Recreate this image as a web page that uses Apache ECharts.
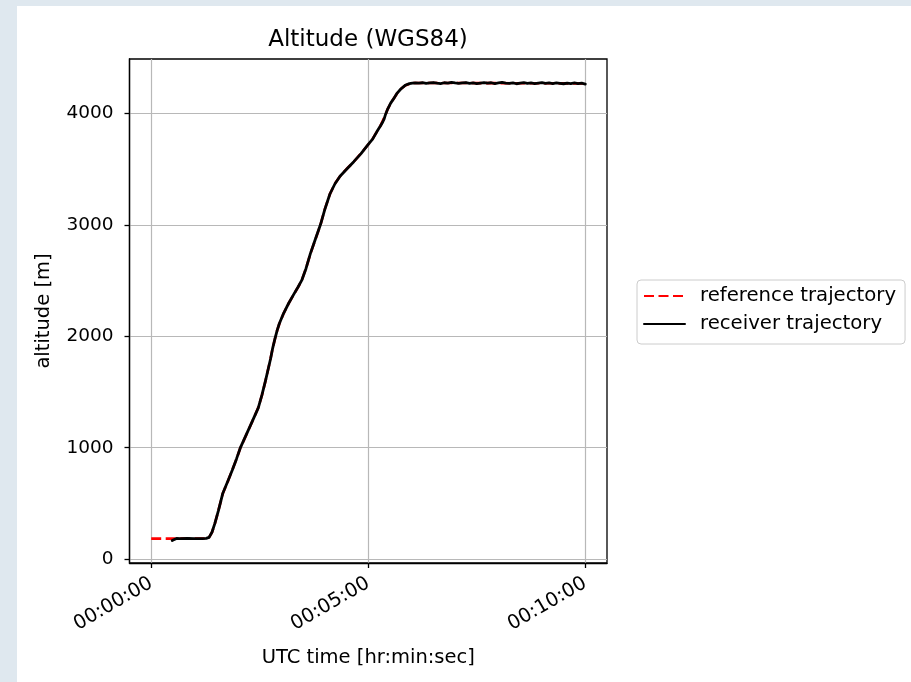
<!DOCTYPE html>
<html>
<head>
<meta charset="utf-8">
<script src="https://cdn.jsdelivr.net/npm/echarts@6/dist/echarts.min.js"></script>
<style>
  html, body { margin: 0; padding: 0; background: #dfe8ef; }
  #sheet { position: absolute; left: 17px; top: 6px; width: 894px; height: 676px; background: #ffffff; }
  #chart { position: absolute; left: 0; top: 0; width: 911px; height: 682px; }
</style>
</head>
<body>
<div id="sheet"></div>
<div id="chart"></div>
<script>
// Seconds since start of run
const refTime = [0, 20, 40, 60, 76, 80, 84, 88, 93, 99, 106, 112, 118, 123, 130, 140, 148, 153, 158, 165,
  168, 171, 174, 177, 183, 190, 197, 203, 208, 214, 220, 227, 234, 240, 247, 254, 261, 270, 280, 290, 300, 306,
  312, 317, 321, 324, 327, 331, 336, 340, 345, 351, 357, 363, 370, 400, 450, 500, 550, 600];
// Reference altitude, metres above WGS84 ellipsoid
const refAlt = [185, 185, 185, 185, 186, 195, 240, 320, 440, 590, 700, 800, 900, 995, 1095, 1240, 1360, 1470, 1600, 1800,
  1895, 1975, 2050, 2110, 2205, 2295, 2375, 2440, 2500, 2610, 2740, 2870, 3000, 3140, 3275, 3370, 3435, 3500, 3565, 3640, 3720, 3770,
  3835, 3890, 3945, 3990, 4040, 4090, 4140, 4180, 4218, 4250, 4265, 4272, 4272, 4272, 4271, 4270, 4269, 4268];

// Receiver solution epochs and altitudes
const recvTime = [29, 31, 35, 40, 50, 60, 70, 76, 80, 84, 88, 93, 99, 106, 112, 118, 123, 130, 140, 148,
  153, 158, 165, 168, 171, 174, 177, 183, 190, 197, 203, 208, 214, 220, 227, 234, 240, 247, 254, 261, 270, 280,
  290, 300, 306, 312, 317, 320, 322, 324, 327, 331, 336, 340, 345, 351, 357, 361,
  365, 370, 375, 380, 385, 390, 395, 400, 405, 410, 415, 420, 425, 430, 435, 440, 445, 450, 455, 460,
  465, 470, 475, 480, 485, 490, 495, 500, 505, 510, 515, 520, 525, 530, 535, 540, 545, 550, 555, 560,
  565, 570, 575, 580, 585, 590, 595, 600];
const recvAlt = [168, 184, 186, 184, 186, 185, 184, 187, 196, 242, 322, 438, 592, 702, 798, 902, 996, 1097, 1241, 1358,
  1472, 1602, 1798, 1896, 1976, 2051, 2112, 2206, 2296, 2376, 2442, 2501, 2608, 2741, 2872, 3002, 3138, 3276, 3368, 3436, 3498, 3566,
  3638, 3722, 3768, 3836, 3888, 3922, 3950, 3992, 4040, 4091, 4140, 4181, 4218, 4251, 4266, 4271,
  4273, 4270, 4274, 4268, 4272, 4276, 4271, 4267, 4274, 4270, 4277, 4272, 4268, 4273, 4276, 4269, 4272, 4266, 4271, 4275,
  4270, 4274, 4267, 4272, 4277, 4271, 4268, 4273, 4265, 4270, 4275, 4269, 4272, 4267, 4271, 4275, 4268, 4272, 4267, 4273,
  4269, 4265, 4271, 4267, 4272, 4266, 4270, 4261];

const xTicks = [0, 300, 600];
const xTickLabels = ['00:00:00', '00:05:00', '00:10:00'];
const yTicks = [0, 1000, 2000, 3000, 4000];

const FONT = 'DejaVu Sans';

function pairs(xs, ys) { return xs.map((x, i) => [x, ys[i]]); }

const chart = echarts.init(document.getElementById('chart'), null, { renderer: 'canvas' });

chart.setOption({
  backgroundColor: 'transparent',
  animation: false,
  textStyle: { fontFamily: FONT, color: '#000' },
  graphic: [{
    type: 'text',
    x: 368, y: 40,
    style: {
      text: 'Altitude (WGS84)',
      font: '23px "DejaVu Sans"',
      fill: '#000',
      textAlign: 'center',
      textVerticalAlign: 'middle'
    }
  }],
  grid: {
    left: 129.5, top: 59, width: 477.5, height: 504,
    show: true, borderColor: '#000', borderWidth: 1.3, backgroundColor: 'transparent'
  },
  legend: {
    orient: 'vertical',
    left: 637, top: 280,
    padding: [6, 9, 10, 6],
    itemWidth: 41, itemHeight: 14, itemGap: 8,
    borderColor: '#cccccc', borderWidth: 1, borderRadius: 4,
    backgroundColor: '#fff',
    itemStyle: { opacity: 0 },
    textStyle: { fontFamily: FONT, fontSize: 19.7, color: '#000', lineHeight: 20, padding: [0, 0, 0, 10] },
    data: ['reference trajectory', 'receiver trajectory']
  },
  xAxis: {
    type: 'value',
    min: -30, max: 630,
    name: 'UTC time [hr:min:sec]',
    nameLocation: 'middle',
    nameGap: 85,
    nameTextStyle: { fontFamily: FONT, fontSize: 19.5, color: '#000' },
    axisLine: { show: true, onZero: false, lineStyle: { color: '#000', width: 1.3 } },
    axisTick: { show: true, inside: false, length: 5, customValues: xTicks, lineStyle: { color: '#000', width: 1.3 } },
    axisLabel: {
      customValues: xTicks,
      rotate: 30,
      margin: 19,
      fontFamily: FONT, fontSize: 19.5, color: '#000',
      formatter: v => xTickLabels[xTicks.indexOf(v)]
    },
    splitLine: { show: true, lineStyle: { color: '#b8b8b8', width: 1.2 } }
  },
  yAxis: {
    type: 'value',
    min: -34, max: 4487,
    name: 'altitude [m]',
    nameLocation: 'middle',
    nameGap: 76,
    nameTextStyle: { fontFamily: FONT, fontSize: 19.5, color: '#000' },
    axisLine: { show: true, onZero: false, lineStyle: { color: '#000', width: 1.3 } },
    axisTick: { show: true, inside: false, length: 5, customValues: yTicks, lineStyle: { color: '#000', width: 1.3 } },
    axisLabel: {
      customValues: yTicks, margin: 16,
      fontFamily: FONT, fontSize: 18.5, color: '#000',
      formatter: v => String(v)
    },
    splitLine: { show: true, lineStyle: { color: '#b8b8b8', width: 1.2 } }
  },
  series: [
    {
      name: 'reference trajectory',
      type: 'line',
      data: pairs(refTime, refAlt),
      showSymbol: false, symbol: 'none',
      smooth: false,
      lineStyle: { color: '#ff0000', width: 2.6, type: [10, 4.5] },
      itemStyle: { color: '#ff0000' },
      z: 2
    },
    {
      name: 'receiver trajectory',
      type: 'line',
      data: pairs(recvTime, recvAlt),
      showSymbol: false, symbol: 'none',
      smooth: false,
      lineStyle: { color: '#000000', width: 2.8, join: 'round', cap: 'round' },
      itemStyle: { color: '#000000' },
      z: 3
    }
  ]
});
</script>
</body>
</html>
